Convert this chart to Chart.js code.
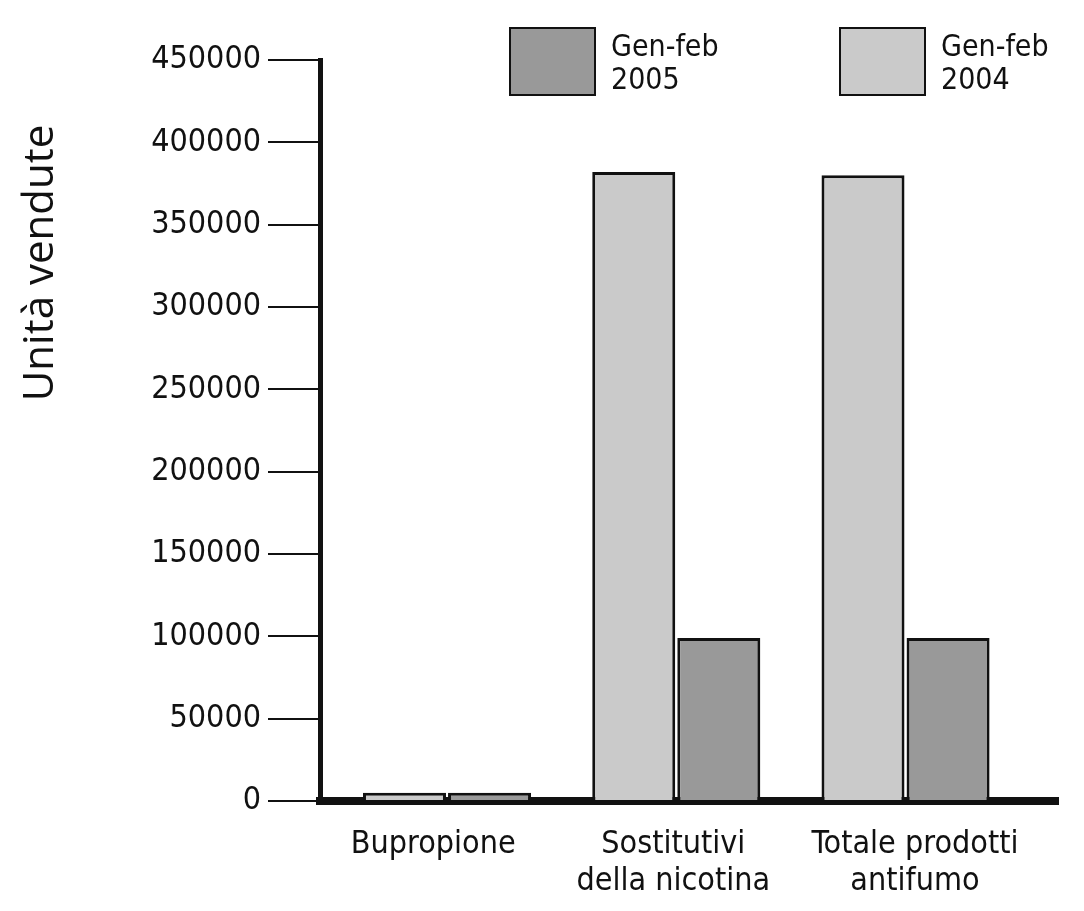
<!DOCTYPE html>
<html lang="it">
<head>
<meta charset="utf-8">
<title>Unità vendute</title>
<script src="https://cdn.jsdelivr.net/npm/chart.js@4.4.1/dist/chart.umd.min.js"></script>
<style>
  html, body { margin: 0; padding: 0; background: #fff; }
  #grafico { display: block; }
</style>
</head>
<body>
<canvas id="grafico" width="1084" height="911"></canvas>
<script>
let categorie = [["Bupropione"], ["Sostitutivi", "della nicotina"], ["Totale prodotti", "antifumo"]];
let vendite2004 = [5000, 382000, 380000];
let vendite2005 = [5000, 99000, 99000];
let nomiSerie = ["Gen-feb 2004", "Gen-feb 2005"];
let tickY = [0, 50000, 100000, 150000, 200000, 250000, 300000, 350000, 400000, 450000];
let titoloY = "Unità vendute";

let fontStretto = "'DejaVu Sans Condensed', 'DejaVu Sans', sans-serif";
let fontTitolo = "'Open Sans', 'Noto Sans', sans-serif";
let grigioChiaro = "#cacaca";
let grigioScuro = "#999999";
let nero = "#111111";

// le etichette sotto l'asse non sono proprio centrate sulle coppie di barre
let spostamentoEtichette = [-0.06, -0.013, 0.041];

// legenda a due righe, prima 2005 poi 2004
let pluginLegenda = {
  id: "legenda",
  afterDraw(chart) {
    let ctx = chart.ctx;
    let posizioni = [510, 840];
    let datasets = chart.data.datasets.slice().reverse();
    ctx.save();
    datasets.forEach((ds, i) => {
      let x = posizioni[i];
      ctx.fillStyle = ds.backgroundColor;
      ctx.fillRect(x, 28, 85, 67);
      ctx.strokeStyle = nero;
      ctx.lineWidth = 2;
      ctx.strokeRect(x, 28, 85, 67);
      ctx.fillStyle = nero;
      ctx.font = "30px " + fontStretto;
      ctx.textAlign = "left";
      ctx.textBaseline = "middle";
      ds.label.split(" ").forEach((riga, j) => {
        ctx.fillText(riga, x + 101, 48 + j * 33);
      });
    });
    ctx.restore();
  }
};

// titolo asse y, spostato verso l'alto
let pluginTitoloY = {
  id: "titoloY",
  afterDraw(chart) {
    let ctx = chart.ctx;
    ctx.save();
    ctx.translate(41, 263);
    ctx.rotate(-Math.PI / 2);
    ctx.fillStyle = nero;
    ctx.font = "42px " + fontTitolo;
    ctx.textAlign = "center";
    ctx.textBaseline = "middle";
    ctx.fillText(titoloY, 0, 0);
    ctx.restore();
  }
};

let conf = {
  type: "bar",
  data: {
    labels: categorie.map((c, i) => i),
    datasets: [
      {
        label: nomiSerie[0],
        data: vendite2004,
        backgroundColor: grigioChiaro,
        borderColor: nero,
        borderWidth: 3
      },
      {
        label: nomiSerie[1],
        data: vendite2005,
        backgroundColor: grigioScuro,
        borderColor: nero,
        borderWidth: 3
      }
    ]
  },
  options: {
    responsive: false,
    animation: false,
    events: [],
    devicePixelRatio: 1,
    categoryPercentage: 0.742,
    barPercentage: 0.976,
    layout: { padding: { top: 60, right: 26, bottom: 0, left: 0 } },
    plugins: { legend: { display: false }, tooltip: { enabled: false } },
    scales: {
      x: {
        type: "linear",
        offset: false,
        min: -0.554,
        max: 2.665,
        afterBuildTicks: (scale) => {
          scale.ticks = categorie.map((c, i) => ({ value: i + spostamentoEtichette[i] }));
        },
        afterFit: (scale) => { scale.height = 110; },
        grid: { display: true, drawOnChartArea: false, color: "rgba(0,0,0,0)", tickLength: 0 },
        border: { display: true, color: nero, width: 8 },
        ticks: {
          autoSkip: false,
          maxRotation: 0,
          padding: 25,
          color: nero,
          font: { family: fontStretto, size: 32, lineHeight: 1.15 },
          callback: (v, i) => categorie[i]
        }
      },
      y: {
        min: 0,
        max: 450000,
        afterBuildTicks: (scale) => {
          scale.ticks = tickY.map((v) => ({ value: v }));
        },
        afterFit: (scale) => { scale.width = 320; },
        grid: { drawOnChartArea: false, color: nero, lineWidth: 2, tickLength: 52 },
        border: { display: true, color: nero, width: 5 },
        ticks: {
          padding: 7,
          color: nero,
          font: { family: fontStretto, size: 32 },
          callback: (v) => String(v)
        }
      }
    }
  },
  plugins: [pluginLegenda, pluginTitoloY]
};

let grafico = new Chart(document.querySelector("#grafico"), conf);
</script>
</body>
</html>
